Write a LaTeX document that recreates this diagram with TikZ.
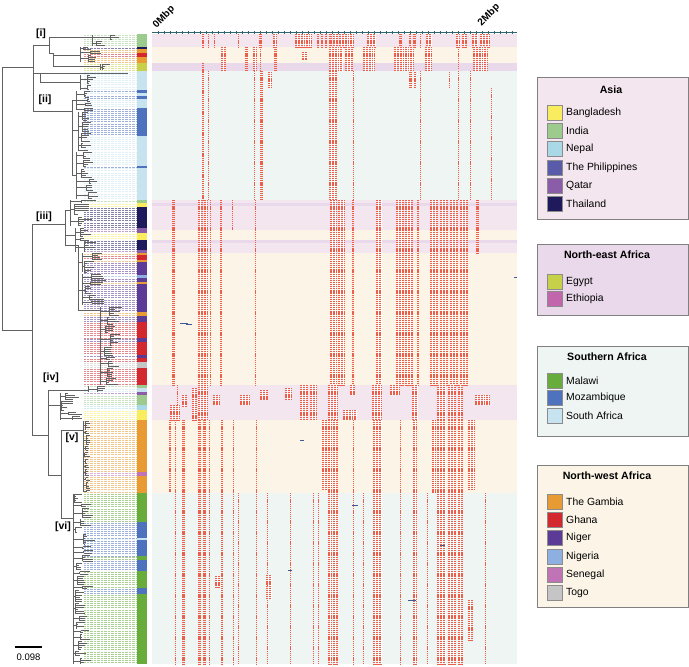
\documentclass[tikz,border=0pt]{standalone}
\usepackage{fontspec}
\setmainfont{Liberation Sans}
\definecolor{india}{HTML}{9DCB8E}
\definecolor{bangla}{HTML}{F9EC5F}
\definecolor{nepal}{HTML}{A9D9E6}
\definecolor{phil}{HTML}{5A5BA8}
\definecolor{qatar}{HTML}{8B5DA8}
\definecolor{thai}{HTML}{1E1A5C}
\definecolor{egypt}{HTML}{C6D048}
\definecolor{ethio}{HTML}{C166AC}
\definecolor{malawi}{HTML}{68AC3C}
\definecolor{moz}{HTML}{4E72BE}
\definecolor{safr}{HTML}{C7E3EF}
\definecolor{gambia}{HTML}{E99B33}
\definecolor{ghana}{HTML}{D2282E}
\definecolor{niger}{HTML}{5C3B97}
\definecolor{nigeria}{HTML}{8DB0E0}
\definecolor{senegal}{HTML}{C073B5}
\definecolor{togo}{HTML}{C5C5C5}
\definecolor{asiabg}{HTML}{F4E6EE}
\definecolor{neabg}{HTML}{E9D9EA}
\definecolor{sabg}{HTML}{EEF5F2}
\definecolor{nwabg}{HTML}{FCF5E7}
\definecolor{redblk}{HTML}{EC604B}
\definecolor{hdr}{HTML}{2F6670}
\tikzset{
  tree/.style={draw=black!62, line width=0.5pt},
  leader/.style={line width=0.35pt, dash pattern=on 0.5pt off 0.9pt},
  rblock/.style={draw=redblk, dash pattern=on 1.25pt off 0.85pt},
  legbox/.style={draw=black!50, line width=0.7pt, anchor=north west, inner sep=0pt},
  swatch/.style={draw=black!45, line width=0.4pt, minimum width=15pt, minimum height=15pt, inner sep=0pt},
  legtxt/.style={anchor=west, inner sep=0pt, font=\fontsize{10.4}{12}\selectfont},
  legtitle/.style={inner sep=0pt, font=\bfseries\fontsize{10.6}{12}\selectfont},
  cladelab/.style={inner sep=0pt, font=\bfseries\fontsize{10.5}{12}\selectfont},
  mbp/.style={inner sep=0pt, rotate=45, font=\bfseries\fontsize{10}{12}\selectfont},
}
\newcommand\tclade[5]{%
  \draw[tree] (#1,#2) -- (#1,#3);
  \pgfmathsetmacro\cyy{#2}%
  \loop
    \pgfmathrandominteger{\ck}{2}{6}%
    \pgfmathsetmacro\cgy{min(\cyy+(\ck-1)*2.1,#3)}%
    \pgfmathsetmacro\cgx{#1+1+rnd*#4}%
    \pgfmathsetmacro\cmid{(\cyy+\cgy)/2}%
    \pgfmathtruncatemacro\cn{(\cgy-\cyy)/2.1+0.01}%
    \draw[tree] (#1,\cmid) -- (\cgx,\cmid) (\cgx,\cyy) -- (\cgx,\cgy);
    \foreach \j in {0,...,\cn}{%
      \pgfmathsetmacro\tl{1+rnd*#5}%
      \draw[tree] (\cgx,{\cyy+\j*2.1}) -- ++(\tl,0);
    }%
    \pgfmathsetmacro\cyy{\cgy+2.1}%
  \ifdim\cyy pt<#3pt\repeat
}
\begin{document}
\begin{tikzpicture}[x=1pt,y=-1pt]
\pgfmathsetseed{11}
\useasboundingbox (0,0) rectangle (689,667);
\fill[white] (0,0) rectangle (689,667);

% ---------- matrix background bands ----------
\foreach \a/\b/\c in {34/47/asiabg,47/63/nwabg,63/71/neabg,71/200/sabg,
  200/203/asiabg,203/206/neabg,206/230/asiabg,230/240/nwabg,240/243/neabg,
  243/253/asiabg,253/385/nwabg,385/420/asiabg,420/493/nwabg,493/664/sabg}{
  \fill[\c] (152,\a) rectangle (517,\b);
}

% ---------- colour strip and leader lines ----------
\foreach \a/\b/\c in {34/47/india,47/49/thai,49/53/gambia,53/57/ghana,57/63/gambia,
  63/71/egypt,71/90/safr,90/92.5/moz,92.5/95.5/safr,95.5/99/moz,99/108/safr,
  108/136/moz,136/166/safr,166/167.5/moz,167.5/200/safr,200/203/india,
  203/207/bangla,207/228/thai,228/233/qatar,233/240/bangla,240/250/thai,
  250/253/qatar,253/255/gambia,255/260/ghana,260/262/gambia,262/275/niger,
  275/278/nigeria,278/282/niger,282/284/gambia,284/312/niger,312/316/gambia,
  316/322/niger,322/338/ghana,338/342/niger,342/355/ghana,355/358/niger,
  358/362/ghana,362/368/togo,368/385/ghana,385/388/india,388/392/safr,
  392/395/qatar,395/405/india,405/410/nepal,410/420/bangla,420/472/gambia,
  472/476/senegal,476/493/gambia,493/522/malawi,522/538/moz,538/540/safr,
  540/556/moz,556/560/malawi,560/571/moz,571/588/malawi,588/594/moz,594/664/malawi}{
  \fill[\c] (137,\a) rectangle (147,\b);
  \pgfmathtruncatemacro\nn{(\b-\a)/2.1}
  \foreach \j in {0,...,\nn}{
    \pgfmathsetmacro\yy{\a+1+\j*2.1}
    \ifdim\yy pt<\b pt \draw[leader,\c!55] (84,\yy) -- (136.5,\yy);\fi
  }
}

% ---------- recombination blocks ----------
\foreach \a/\b/\c/\d in {
  % India rows
  202/204/34/47, 208/209.2/34/47, 214/215.2/34/47, 238/239.2/34/47, 259/262/34/47,
  273/277/34/47, 295/312/34/47, 317/319/34/47, 321/323/34/47, 325/327/34/47,
  329/332/34/47, 333/338/34/47, 339/354/34/47, 367/376/34/47, 399/402/34/47,
  409/411/34/47, 413/416/34/47, 420/421.2/34/47, 426/432/34/47, 456/460/34/47,
  462/467/34/47, 472/478/34/47, 480/490/34/47,
  % Gambia / Ghana / Egypt rows
  221/226/47/71, 245/248/47/71, 253/257/47/71, 260/261.2/47/71, 274/277/47/71,
  302/307/52/60, 329/343/47/71, 345/353/47/71, 363/375/47/71, 394/414/47/71,
  425/432/47/71, 458/459.2/47/70, 473/488/47/71,
  % Southern Africa rows
  202/204/63/200, 208/209.2/71/200, 254/255.2/71/200, 260/262.5/71/200, 268/272/72/88,
  329/337/71/200, 353/354.2/71/200, 409/412/72/88, 414/416/72/88, 420/421.2/71/200,
  449/450.2/72/88, 458/459.2/71/200, 470/471.2/71/200, 491/492.2/88/200,
  % clade iii
  172/175/200/385, 198/203/200/385, 204/208/200/385, 210/211.2/200/385, 220/222/200/385,
  232/233.2/200/230, 255/256.2/200/385, 330/337/200/385, 338/345/200/385,
  352/354/200/385, 376/382/200/385, 396/404/200/385, 405/413/200/385, 417/419/200/385,
  430/438/200/385, 440/448/200/385, 450/458/200/385, 460/468/200/385, 476/479/200/253,
  % Asia rows of clade iv
  170/180/405/420, 177/178.2/385/405, 182/187/395/407, 192/197/388/420, 198/208/385/420,
  213/220/395/405, 240/250/395/405, 260/268/390/400, 285/292/388/400, 300/308/385/420,
  310/317/385/420, 328/338/385/420, 343/357/410/420, 350/355/385/395, 372/382/385/420,
  390/400/385/395, 412/418/385/420, 437/446/385/420, 448/456/385/420, 458/463/385/420,
  475/490/395/405,
  % clade v
  169/171/420/492, 175/176.2/420/664, 182/185/420/664, 198/201/420/664, 203/206/420/664,
  209/210.2/420/664, 221/223/420/664, 233/234.2/420/664, 256/257.2/420/664,
  322/327/420/490, 328/332/420/664, 333/338/420/664, 353/354.2/420/664, 373/382/420/664,
  400/401.2/420/664, 413/417/420/664, 432/436/420/493, 437/446/420/664, 448/456/420/664,
  458/463/420/664, 468/475/420/490,
  % clade vi
  238/239.2/493/664, 267/268.2/493/664, 266/272/575/600, 290/291.2/493/664,
  313/314.2/493/664, 318/319.2/493/664, 363/364.2/493/664, 427/428.2/493/664,
  468/473/600/640, 485/486.2/493/664, 215/220/576/587}{
  \pgfmathsetmacro\w{\b-\a}
  \draw[rblock, line width=\w pt] ({(\a+\b)/2},\c) -- ({(\a+\b)/2},\d);
  \pgfmathtruncatemacro\nc{(\w-0.5)/2.6}
  \ifnum\nc>0
    \foreach \k in {1,...,\nc}{
      \draw[white, line width=0.5pt] ({\a+\k*2.6},\c) -- ({\a+\k*2.6},\d);
    }
  \fi
}
% small marks
\foreach \x/\y/\l in {180/323/8, 186/324/6, 514/277/3, 408/600/8, 288/570/4, 352/505/6, 440/545/5, 300/440/4}{
  \draw[moz!80!black, line width=0.8pt] (\x,\y) -- ++(\l,0);
}
% header
\draw[hdr, line width=1.3pt] (152,32.5) -- (517,32.5);
\foreach \x in {158,164,...,514}{\draw[hdr, line width=0.4pt] (\x,31) -- (\x,34.2);}
\node[mbp] (m0) at (164,17) {0Mbp};
\node[mbp] (m2) at (489,15) {2Mbp};

% ---------- tree ----------
\draw[tree] (2,67) -- (2,330);
\draw[tree] (2,67) -- (33,67);
\draw[tree] (2,330) -- (32,330);
\draw[tree] (33,45) -- (33,111);
\draw[tree] (33,45) -- (49,45);
\draw[tree] (49,37) -- (49,53);
\draw[tree] (49,37) -- (92,37);
\tclade{92}{35}{46}{18}{12}
\draw[tree] (49,53) -- (53,53);
\draw[tree] (53,53) -- (53,66);
\draw[tree] (53,55) -- (80,55);
\tclade{80}{47}{62}{14}{10}
\draw[tree] (53,66) -- (100,66);
\tclade{100}{64}{70}{5}{8}
\draw[tree] (33,73) -- (40,73);
\draw[tree] (40,73) -- (40,82);
\draw[tree] (40,73) -- (128,73);
\draw[tree] (40,82) -- (80,82);
\tclade{80}{75}{90}{10}{10}
\draw[tree] (33,111) -- (72,111);
\draw[tree] (72,100) -- (72,175);
\draw[tree] (72,100) -- (76,100);
\tclade{76}{91}{110}{12}{10}
\draw[tree] (72,130) -- (78,130);
\tclade{78}{112}{150}{12}{10}
\draw[tree] (72,175) -- (76,175);
\tclade{76}{152}{199}{14}{10}
\draw[tree] (32,224) -- (32,435);
\draw[tree] (32,224) -- (65,224);
\draw[tree] (65,210) -- (65,245);
\draw[tree] (65,210) -- (70,210);
\tclade{70}{200}{226}{12}{14}
\draw[tree] (65,235) -- (75,235);
\tclade{75}{228}{252}{10}{14}
\draw[tree] (65,245) -- (78,245);
\draw[tree] (78,245) -- (78,310);
\draw[tree] (78,262) -- (82,262);
\tclade{82}{253}{272}{12}{12}
\draw[tree] (78,290) -- (82,290);
\tclade{82}{274}{305}{12}{14}
\draw[tree] (78,310) -- (100,310);
\tclade{100}{307}{385}{10}{12}
\draw[tree] (32,435) -- (48,435);
\draw[tree] (48,390) -- (48,475);
\draw[tree] (48,390) -- (88,390);
\tclade{88}{386}{392}{10}{8}
\draw[tree] (48,405) -- (60,405);
\tclade{60}{393}{420}{16}{14}
\draw[tree] (48,475) -- (61,475);
\draw[tree] (61,430) -- (61,518);
\draw[tree] (61,430) -- (83,430);
\tclade{83}{421}{492}{3}{4}
\draw[tree] (61,518) -- (73,518);
\tclade{73}{494}{664}{10}{10}

% clade labels
\node[cladelab] (li) at (41,34) {[i]};
\node[cladelab] (lii) at (45,100) {[ii]};
\node[cladelab] (liii) at (44,217) {[iii]};
\node[cladelab] (liv) at (51,378) {[iv]};
\node[cladelab] (lv) at (72,438) {[v]};
\node[cladelab] (lvi) at (63,527) {[vi]};

% scale bar
\coordinate (sb1) at (15,647);
\coordinate (sb2) at (42,647);
\draw[line width=2pt] (sb1) -- (sb2);
\node[inner sep=0pt, font=\fontsize{9.5}{11}\selectfont] (sbl) at (28.5,657.5) {0.098};

% ---------- legends ----------
\node[legbox, fill=asiabg, minimum width=151pt, minimum height=142pt] (asiabox) at (537,77) {};
\node[legtitle] (asiaT) at (611,90) {Asia};
\node[legbox, fill=neabg, minimum width=151pt, minimum height=71pt] (neabox) at (537,244) {};
\node[legtitle] (neaT) at (607,255) {North-east Africa};
\node[legbox, fill=sabg, minimum width=151pt, minimum height=90pt] (sabox) at (537,346) {};
\node[legtitle] (saT) at (607,357) {Southern Africa};
\node[legbox, fill=nwabg, minimum width=151pt, minimum height=142pt] (nwabox) at (537,465) {};
\node[legtitle] (nwaT) at (607,476) {North-west Africa};
\foreach \c/\t/\y/\n in {bangla/Bangladesh/113/a1, india/India/131/a2, nepal/Nepal/149/a3,
  phil/The Philippines/168/a4, qatar/Qatar/186/a5, thai/Thailand/204/a6,
  egypt/Egypt/282/b1, ethio/Ethiopia/299/b2,
  malawi/Malawi/381/c1, moz/Mozambique/398/c2, safr/South Africa/416/c3,
  gambia/The Gambia/502/d1, ghana/Ghana/520/d2, niger/Niger/538/d3,
  nigeria/Nigeria/557/d4, senegal/Senegal/575/d5, togo/Togo/593/d6}{
  \node[swatch, fill=\c] (s\n) at (554.5,\y) {};
  \node[legtxt] (t\n) at (566,\y) {\t};
}
\end{tikzpicture}
\end{document}
